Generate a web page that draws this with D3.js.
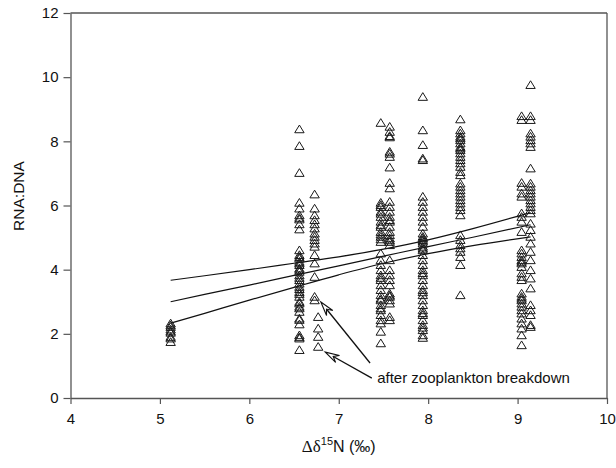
<!DOCTYPE html>
<html><head><meta charset="utf-8">
<script src="https://cdn.jsdelivr.net/npm/d3@7"></script>
<style>body{margin:0;background:#fff}svg{display:block}</style>
</head><body>
<svg id="c" width="616" height="468"></svg>
<script>
// ---- data ----
const xTicks = [4, 5, 6, 7, 8, 9, 10];
const yTicks = [0, 2, 4, 6, 8, 10, 12];
const xLabelGreek = "Δδ";
const xLabelSup = "15";
const xLabelTail = "N (‰)";
const yLabel = "RNA:DNA";

const columnX = [5.12, 6.56, 6.73, 6.77, 7.47, 7.57, 7.94, 8.36, 9.045, 9.145];
const col_5_12 = [2.33, 2.27, 2.22, 2.14, 2.08, 2.04, 1.91, 1.86, 1.75];
const col_6_56 = [8.38, 7.86, 7.02, 6.09, 5.91, 5.70, 5.62, 5.57, 5.42, 5.26, 4.61, 4.46, 4.40, 4.35, 4.25, 4.20, 4.15, 4.04, 4.00, 3.94, 3.83, 3.75, 3.68, 3.57, 3.47, 3.40, 3.31, 3.25, 3.16, 3.00, 2.95, 2.85, 2.80, 2.69, 2.48, 2.44, 2.30, 1.96, 1.90, 1.86, 1.50];
const col_6_73 = [6.35, 5.91, 5.70, 5.55, 5.42, 5.29, 5.13, 5.03, 4.93, 4.82, 4.72, 4.46, 4.20, 3.78, 3.16, 3.05];
const col_6_77 = [2.53, 2.17, 1.91, 1.60];
const col_7_47 = [8.58, 6.09, 6.02, 5.96, 5.81, 5.75, 5.65, 5.50, 5.40, 5.34, 5.18, 5.10, 5.03, 4.95, 4.87, 4.51, 4.30, 4.15, 3.99, 3.83, 3.75, 3.68, 3.52, 3.37, 3.21, 3.10, 3.05, 2.90, 2.80, 2.74, 2.59, 2.43, 2.33, 2.07, 1.71];
const col_7_57 = [8.46, 8.30, 8.17, 8.13, 7.68, 7.62, 7.52, 7.19, 6.71, 6.54, 6.12, 5.96, 5.81, 5.65, 5.55, 5.50, 5.34, 5.18, 5.08, 4.98, 4.92, 4.87, 4.77, 4.30, 3.99, 3.83, 3.68, 3.52, 3.26, 3.20, 3.16, 3.05, 2.95, 2.53, 2.43];
const col_7_94 = [9.39, 8.35, 7.89, 7.47, 7.42, 6.28, 6.12, 5.96, 5.81, 5.65, 5.50, 5.34, 5.13, 5.03, 4.98, 4.93, 4.88, 4.82, 4.72, 4.66, 4.61, 4.46, 4.30, 4.15, 3.99, 3.90, 3.83, 3.68, 3.52, 3.37, 3.30, 3.21, 3.05, 2.90, 2.74, 2.65, 2.59, 2.43, 2.28, 2.20, 2.12, 1.96, 1.88];
const col_8_36 = [8.69, 8.35, 8.25, 8.15, 8.10, 8.04, 7.94, 7.83, 7.78, 7.73, 7.63, 7.52, 7.42, 7.32, 7.21, 7.05, 6.95, 6.69, 6.59, 6.48, 6.38, 6.28, 6.17, 6.07, 5.96, 5.86, 5.70, 5.08, 4.93, 4.77, 4.67, 4.56, 4.40, 4.15, 3.21];
const col_9_045 = [8.79, 8.67, 6.71, 6.59, 6.38, 6.28, 5.76, 5.65, 5.50, 5.18, 4.61, 4.51, 4.40, 4.30, 4.25, 4.20, 4.09, 3.89, 3.78, 3.68, 3.26, 3.16, 3.10, 3.05, 2.95, 2.85, 2.74, 2.64, 2.48, 2.33, 2.17, 1.96, 1.65];
const col_9_145 = [9.76, 8.79, 8.67, 8.25, 8.15, 8.04, 7.94, 7.83, 7.16, 6.69, 6.59, 6.48, 6.38, 6.28, 6.17, 6.07, 5.96, 5.86, 5.76, 5.44, 5.24, 5.03, 4.82, 4.56, 4.30, 3.99, 3.73, 3.42, 2.90, 2.74, 2.59, 2.28, 2.22];
const columnValues = [col_5_12, col_6_56, col_6_73, col_6_77, col_7_47, col_7_57, col_7_94, col_8_36, col_9_045, col_9_145];

const fitX     = [5.12, 5.5, 6.0, 6.5, 7.0, 7.5, 8.0, 8.5, 9.145];
const fitUpper = [3.67, 3.81, 4.00, 4.20, 4.40, 4.64, 4.93, 5.28, 5.78];
const fitMid   = [3.00, 3.23, 3.52, 3.82, 4.12, 4.42, 4.72, 5.01, 5.40];
const fitLower = [2.33, 2.64, 3.05, 3.45, 3.84, 4.20, 4.50, 4.75, 5.02];

const noteText = "after zooplankton breakdown";
const noteAt = [7.43, 0.47];
const arrowTips  = [[6.80, 2.99], [6.85, 1.43]];
const arrowTails = [[7.35, 1.09], [7.37, 0.62]];

// ---- drawing ----
const svg = d3.select("#c");
const FONT = "'Liberation Sans', Arial, sans-serif";
const x = d3.scaleLinear().domain([4, 10]).range([70.5, 607]);
const y = d3.scaleLinear().domain([0, 12]).range([398, 13]);
const AX = "#555";

svg.append("line").attr("x1", x(4)).attr("x2", x(10)).attr("y1", y(12)).attr("y2", y(12))
  .attr("stroke", AX).attr("stroke-width", 1.3);
svg.append("line").attr("x1", x(10)).attr("x2", x(10)).attr("y1", y(12)).attr("y2", y(0))
  .attr("stroke", AX).attr("stroke-width", 1.3);

const gx = svg.append("g").attr("transform", `translate(0,${y(0)})`)
  .call(d3.axisBottom(x).tickValues(xTicks).tickFormat(d3.format("d")).tickSize(6).tickSizeOuter(0).tickPadding(9));
const gy = svg.append("g").attr("transform", `translate(${x(4)},0)`)
  .call(d3.axisLeft(y).tickValues(yTicks).tickFormat(d3.format("d")).tickSize(7).tickSizeOuter(0).tickPadding(5));
[gx, gy].forEach(g => {
  g.select(".domain").attr("stroke", AX).attr("stroke-width", 1.3);
  g.selectAll(".tick line").attr("stroke", AX).attr("stroke-width", 1.2);
  g.selectAll(".tick text").attr("fill", "#111").style("font-family", FONT).style("font-size", "15px");
});

const xt = svg.append("text").attr("x", (x(4) + x(10)) / 2).attr("y", 452)
  .attr("text-anchor", "middle").style("font-family", FONT).style("font-size", "16px").attr("fill", "#111");
xt.append("tspan").style("font-family", "'Liberation Serif', 'DejaVu Serif', serif").style("font-size", "17px").text(xLabelGreek);
xt.append("tspan").attr("dy", -7).style("font-size", "11px").text(xLabelSup);
xt.append("tspan").attr("dy", 7).text(xLabelTail);

svg.append("text").attr("transform", `translate(23.5,196) rotate(-90)`)
  .attr("text-anchor", "middle").style("font-family", FONT).style("font-size", "15.5px").attr("fill", "#111")
  .text(yLabel);

const lineGen = d3.line().x((d, i) => x(fitX[i])).y(d => y(d)).curve(d3.curveMonotoneX);
[fitUpper, fitMid, fitLower].forEach(arr => {
  svg.append("path").attr("d", lineGen(arr)).attr("fill", "none").attr("stroke", "#111").attr("stroke-width", 1.2);
});

const pts = [];
columnValues.forEach((vals, i) => vals.forEach(v => pts.push([columnX[i], v])));
const tri = "M0,-4.1L4.7,3.6L-4.7,3.6Z";
svg.append("g").selectAll("path").data(pts).join("path")
  .attr("d", tri)
  .attr("transform", d => `translate(${x(d[0])},${y(d[1])})`)
  .attr("fill", "none").attr("stroke", "#1a1a1a").attr("stroke-width", 1);

svg.append("text").attr("x", x(noteAt[0])).attr("y", y(noteAt[1]))
  .style("font-family", FONT).style("font-size", "15px").attr("fill", "#111").text(noteText);
arrowTips.forEach((tip, i) => {
  const tail = arrowTails[i];
  const tx = x(tip[0]), ty = y(tip[1]), sx = x(tail[0]), sy = y(tail[1]);
  const len = Math.hypot(tx - sx, ty - sy);
  const ux = (tx - sx) / len, uy = (ty - sy) / len;
  const nx = -uy, ny = ux;
  svg.append("line").attr("x1", sx).attr("y1", sy).attr("x2", tx - 6 * ux).attr("y2", ty - 6 * uy)
    .attr("stroke", "#111").attr("stroke-width", 1.3);
  const hl = 14, hw = 4, notch = 9;
  const p = [
    [tx, ty],
    [tx - hl * ux + hw * nx, ty - hl * uy + hw * ny],
    [tx - notch * ux, ty - notch * uy],
    [tx - hl * ux - hw * nx, ty - hl * uy - hw * ny]
  ];
  svg.append("path").attr("d", "M" + p.map(q => q.join(",")).join("L") + "Z")
    .attr("fill", "#fff").attr("stroke", "#111").attr("stroke-width", 1.1);
});
</script>
</body></html>
